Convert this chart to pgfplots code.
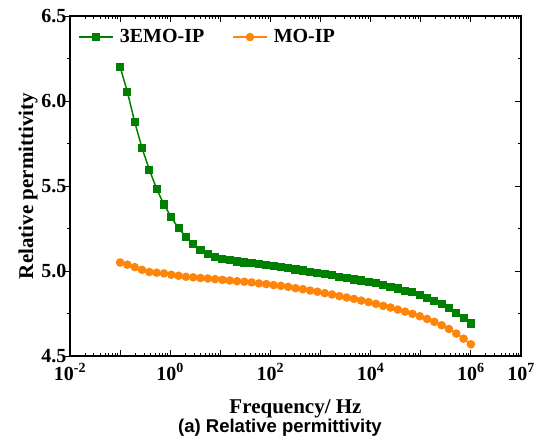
\documentclass[border=0pt]{standalone}
\usepackage{pgfplots}
\usepackage{pgfplotstable}
\pgfplotsset{compat=1.18}
\usepackage{fontspec}
\setmainfont{Liberation Serif}
\newfontfamily\arialfont{Liberation Sans}
\definecolor{cgreen}{RGB}{0,128,0}
\definecolor{corange}{RGB}{255,133,10}
\pgfplotstableread{
f g o
0.1 6.201 5.050
0.13990 6.053 5.037
0.19573 5.876 5.023
0.27384 5.723 5.007
0.38312 5.596 4.994
0.53600 5.483 4.990
0.74989 5.391 4.986
1.04914 5.316 4.978
1.46780 5.251 4.972
2.05353 5.202 4.966
2.87298 5.159 4.963
4.01945 5.125 4.959
5.62341 5.102 4.956
7.86738 5.084 4.952
11.0069 5.072 4.948
15.3993 5.065 4.944
21.5443 5.056 4.940
30.1416 5.050 4.937
42.1697 5.045 4.933
58.9975 5.039 4.927
82.5404 5.033 4.923
115.478 5.027 4.917
161.560 5.023 4.913
226.030 5.017 4.907
316.228 5.009 4.899
442.412 5.003 4.893
618.966 4.996 4.885
865.964 4.990 4.878
1211.53 4.980 4.870
1694.97 4.974 4.862
2371.37 4.966 4.852
3317.64 4.960 4.844
4641.59 4.950 4.836
6493.82 4.944 4.826
9085.18 4.937 4.817
12710.6 4.927 4.807
17782.8 4.917 4.795
24878.9 4.907 4.785
34806.6 4.897 4.773
48696.8 4.885 4.761
68129.2 4.874 4.748
95315.7 4.858 4.734
133352 4.842 4.718
186566 4.824 4.701
261016 4.805 4.681
365174 4.781 4.659
510897 4.754 4.632
714775 4.724 4.602
1000000 4.691 4.569
}\datatable
\begin{document}
\begin{tikzpicture}
\useasboundingbox (-70pt,-84pt) rectangle (474pt,356pt);
\begin{axis}[
  scale only axis, width=451pt, height=340pt,
  xmode=log, xmin=1e-2, xmax=1e7, ymin=4.5, ymax=6.5,
  xtick={1e-2,1e-1,1,1e1,1e2,1e3,1e4,1e5,1e6,1e7},
  xticklabels={10\textsuperscript{-2},,10\textsuperscript{0},,10\textsuperscript{2},,10\textsuperscript{4},,10\textsuperscript{6},10\textsuperscript{7}},
  minor xtick={2e-2,3e-2,4e-2,5e-2,6e-2,7e-2,8e-2,9e-2,
    2e-1,3e-1,4e-1,5e-1,6e-1,7e-1,8e-1,9e-1,
    2,3,4,5,6,7,8,9,
    20,30,40,50,60,70,80,90,
    200,300,400,500,600,700,800,900,
    2e3,3e3,4e3,5e3,6e3,7e3,8e3,9e3,
    2e4,3e4,4e4,5e4,6e4,7e4,8e4,9e4,
    2e5,3e5,4e5,5e5,6e5,7e5,8e5,9e5,
    2e6,3e6,4e6,5e6,6e6,7e6,8e6,9e6},
  ytick={4.5,5.0,5.5,6.0,6.5},
  minor y tick num=1,
  ytick pos=left,
  tick align=inside,
  major tick length=6pt, minor tick length=3pt,
  every tick/.style={black, line width=1pt},
  major y tick style={xshift=-6pt},
  minor y tick style={xshift=-3pt},
  axis line style={black, line width=1.3pt},
  ticklabel style={font=\fontsize{20}{24}\selectfont\bfseries},
  xticklabel style={yshift=-4pt},
  yticklabel style={/pgf/number format/.cd, fixed, fixed zerofill, precision=1, assume math mode=true},
  xlabel={Frequency/ Hz},
  ylabel={Relative permittivity},
  label style={font=\fontsize{21}{24}\selectfont\bfseries},
  xlabel style={at={(axis description cs:0.5,0)}, anchor=base, yshift=-57pt, inner sep=0pt},
  ylabel style={at={(axis description cs:-0.082,0.5)}, anchor=base, inner sep=0pt},
  legend columns=2,
  legend style={at={(axis description cs:0.018,0.938)}, anchor=west, draw=none, fill=none,
    font=\fontsize{20}{24}\selectfont\bfseries, inner sep=0pt,
    /tikz/every odd column/.append style={column sep=4pt},
    /tikz/every even column/.append style={column sep=26pt}},
  legend image code/.code={\draw[mark repeat=2,mark phase=2,#1] plot coordinates {(0pt,0pt) (17pt,0pt) (34pt,0pt)};},
]
\addplot[cgreen, line width=1.5pt, mark=square*, mark size=3.3pt, mark options={solid, fill=cgreen}] table[x=f, y=g] {\datatable};
\addlegendentry{3EMO-IP}
\addplot[corange, line width=1.5pt, mark=*, mark size=3.5pt, mark options={solid, fill=corange}] table[x=f, y=o] {\datatable};
\addlegendentry{MO-IP}
\end{axis}
\begin{axis}[
  scale only axis, width=451pt, height=340pt,
  xmode=log, xmin=1e-2, xmax=1e7, ymin=4.5, ymax=6.5,
  axis x line=none, axis y line*=right,
  axis line style={draw=none},
  ytick={4.5,5.0,5.5,6.0,6.5}, minor y tick num=1, yticklabels={},
  tick align=inside, major tick length=6pt, minor tick length=3pt,
  every tick/.style={black, line width=1pt},
]
\end{axis}
\node[anchor=base, font=\arialfont\fontsize{18.5}{22}\selectfont\bfseries] at (210pt,-76pt) {(a) Relative permittivity};
\end{tikzpicture}
\end{document}
